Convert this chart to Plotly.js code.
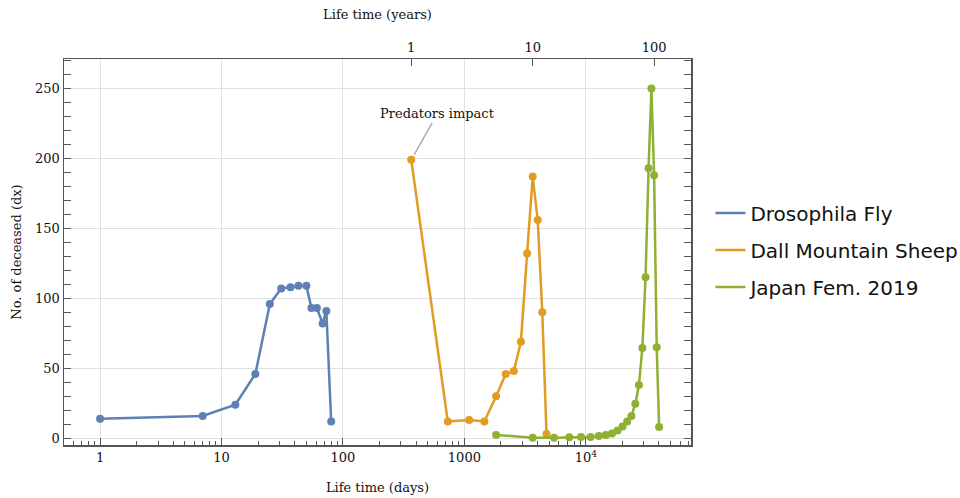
<!DOCTYPE html>
<html>
<head>
<meta charset="utf-8">
<script src="https://cdn.plot.ly/plotly-3.0.1.min.js"></script>
<style>
  body { margin: 0; background: #fff; }
  #myDiv { width: 960px; height: 498px; }
</style>
</head>
<body>
<div id="myDiv"></div>
<script>
graphDiv = 'myDiv'

// Drosophila fly: age in days, number of deceased
var flyDays = [1, 7, 13, 19, 25, 31, 37, 43, 50, 55, 61, 68, 73, 80]
var flyDx = [14, 16, 24, 46, 96, 107, 108, 109, 109, 93, 93, 82, 91, 12]

// Dall mountain sheep: age in years
var sheepYears = [1, 2, 3, 4, 5, 6, 7, 8, 9, 10, 11, 12, 13]
var sheepDx = [199, 12, 13, 12, 30, 46, 48, 69, 132, 187, 156, 90, 3]

// Japan females 2019: age in years (5 year steps)
var japanYears = [5, 10, 15, 20, 25, 30, 35, 40, 45, 50, 55, 60, 65, 70, 75, 80, 85, 90, 95, 100, 105, 110]
var japanDx = [2.4, 0.4, 0.4, 0.7, 1, 1, 1.7, 2.4, 3.5, 5.5, 8.4, 12, 16, 24.6, 38, 64.5, 115, 193, 250, 188, 65, 8]

var bottomTicks = [1, 10, 100, 1000, 10000]
var bottomLabels = ['1', '10', '100', '1000', '10<sup>4</sup>']
var topTicks = [1, 10, 100]

var DAYS_PER_YEAR = 365

function toDays(years) {
  return years.map(function (y) { return y * DAYS_PER_YEAR })
}

var colors = ['#5e81b5', '#e19c24', '#8fb032']
var serif = 'DejaVu Serif'

/* Each series is drawn twice: a line trace that shows up in the legend
 * (the legend only has a line sample) and a marker trace hidden from it.
 */
function series(name, x, y, color, group) {
  return [{
    x: x, y: y, name: name, legendgroup: group,
    mode: 'lines', type: 'scatter',
    line: { color: color, width: 2.5 }
  }, {
    x: x, y: y, name: name, legendgroup: group, showlegend: false,
    mode: 'markers', type: 'scatter',
    marker: { color: color, size: 8 }
  }]
}

var data = [].concat(
  series('Drosophila Fly', flyDays, flyDx, colors[0], 'a'),
  series('Dall Mountain Sheep', toDays(sheepYears), sheepDx, colors[1], 'b'),
  series('Japan Fem. 2019', toDays(japanYears), japanDx, colors[2], 'c')
)

var xRange = [-0.297, 4.866]
var shift = Math.log10(DAYS_PER_YEAR)

var frame = '#555555'
var grid = '#e0e0e0'

var layout = {
  width: 960,
  height: 498,
  margin: { l: 64, r: 269, t: 59, b: 53, autoexpand: false },
  paper_bgcolor: '#ffffff',
  plot_bgcolor: '#ffffff',
  font: { family: serif, size: 13, color: '#111' },
  showlegend: true,
  legend: {
    x: 1.031, xanchor: 'left',
    y: 0.505, yanchor: 'middle',
    font: { family: 'DejaVu Sans', size: 20, color: '#111' },
    tracegroupgap: 8,
    itemwidth: 30
  },
  xaxis: {
    type: 'log',
    range: xRange,
    tickvals: bottomTicks,
    ticktext: bottomLabels,
    ticks: 'inside',
    ticklen: 7,
    tickcolor: frame,
    showline: true,
    linecolor: frame,
    linewidth: 1.5,
    showgrid: true,
    gridcolor: grid,
    zeroline: false,
    minor: { ticks: 'inside', ticklen: 4, tickcolor: frame, dtick: 'D1', showgrid: false },
    title: { text: 'Life time (days)', font: { family: serif, size: 13 }, standoff: 19 },
    tickfont: { family: serif, size: 13 }
  },
  xaxis2: {
    type: 'log',
    overlaying: 'x',
    side: 'top',
    range: [xRange[0] - shift, xRange[1] - shift],
    tickvals: topTicks,
    ticktext: ['1', '10', '100'],
    ticks: 'inside',
    ticklen: 7,
    tickcolor: frame,
    showline: true,
    linecolor: frame,
    linewidth: 1.5,
    showgrid: false,
    zeroline: false,
    title: { text: 'Life time (years)', font: { family: serif, size: 13 }, standoff: 17 },
    tickfont: { family: serif, size: 13 }
  },
  yaxis: {
    range: [-4.8, 271],
    tickvals: [0, 50, 100, 150, 200, 250],
    ticks: 'inside',
    ticklen: 7,
    tickcolor: frame,
    showline: true,
    linecolor: frame,
    linewidth: 1.5,
    mirror: 'allticks',
    showgrid: true,
    gridcolor: grid,
    zeroline: false,
    minor: { ticks: 'inside', ticklen: 4, tickcolor: frame, dtick: 10, showgrid: false },
    title: { text: 'No. of deceased (dx)', font: { family: serif, size: 13 }, standoff: 10 },
    tickfont: { family: serif, size: 13 }
  },
  annotations: [{
    x: Math.log10(sheepYears[0] * DAYS_PER_YEAR),
    y: sheepDx[0],
    xref: 'x',
    yref: 'y',
    text: 'Predators impact',
    font: { family: serif, size: 13, color: '#111' },
    showarrow: true,
    arrowhead: 0,
    arrowwidth: 1.5,
    arrowcolor: '#aaaaaa',
    standoff: 6,
    ax: 26,
    ay: -46
  }]
}

// empty trace so the top axis is drawn
data.push({ x: [1], y: [null], xaxis: 'x2', yaxis: 'y', showlegend: false, hoverinfo: 'skip', type: 'scatter', mode: 'markers' })

Plotly.newPlot(graphDiv, data, layout, { displayModeBar: false, staticPlot: true });
</script>
</body>
</html>
